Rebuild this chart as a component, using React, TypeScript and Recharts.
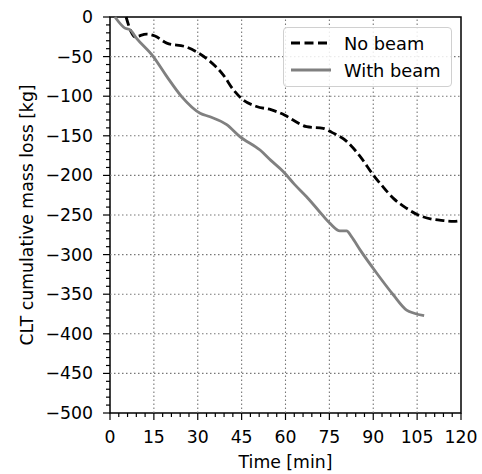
import React from "react";
import {
  LineChart,
  Line,
  XAxis,
  YAxis,
  ReferenceLine,
  ReferenceArea,
  Legend,
} from "recharts";

// time [min] / cumulative mass loss [kg]
const noBeamTime = [5.5, 7.4, 8.5, 12.5, 15.4, 19.4, 26.2, 29.6, 34.2, 38.7, 42.2, 45, 50.1, 55, 59.8, 63, 67.2, 72.9, 76, 80.9, 85.5, 90, 93, 96.9, 101.4, 104.8, 110.5, 114, 117.4, 119];
const noBeamLoss = [0, -20, -25, -21.5, -24, -33, -38, -44, -56, -73, -92, -103, -113, -117, -124, -131, -138.5, -140.5, -146, -157, -176, -199.5, -213, -229, -241.5, -249, -255.5, -257, -258, -257.5];

const withBeamTime = [1.7, 5.1, 6.8, 9.1, 14.8, 19.4, 24.5, 30.8, 34.2, 39.9, 44.4, 51.3, 55, 59.2, 63, 67.2, 71, 75.2, 78.6, 80.9, 82.5, 85.5, 91.2, 96.9, 101.4, 104, 107.4];
const withBeamLoss = [0, -14, -16, -27, -50, -75, -100.5, -121.5, -126, -136, -151, -168, -181, -195, -211, -227, -243, -260.5, -270, -270, -277, -294, -323.5, -351, -370, -374, -377];

const xMajor = [0, 15, 30, 45, 60, 75, 90, 105, 120];
const yMajor = [0, -50, -100, -150, -200, -250, -300, -350, -400, -450, -500];
const xTicks = Array.from({ length: 41 }, (_, i) => i * 3);
const yTicks = Array.from({ length: 51 }, (_, i) => -i * 10);

const noBeam = noBeamTime.map((t, i) => ({ t, v: noBeamLoss[i] }));
const withBeam = withBeamTime.map((t, i) => ({ t, v: withBeamLoss[i] }));

const FONT = "'DejaVu Sans', sans-serif";
const FS = 17.3;
const fmt = (v: number) => String(v).replace("-", "\u2212");

function XTick({ x, y, payload }: any) {
  const major = payload.value % 15 === 0;
  return (
    <g>
      <line x1={x} x2={x} y1={y} y2={y + (major ? 7 : 4)} stroke="#000" strokeWidth={1.2} />
      {major && (
        <text x={x} y={y + 30} textAnchor="middle" fontSize={FS} fontFamily={FONT} fill="#000">
          {fmt(payload.value)}
        </text>
      )}
    </g>
  );
}

function YTick({ x, y, payload }: any) {
  const major = payload.value % 50 === 0;
  return (
    <g>
      <line x1={x} x2={x - (major ? 7 : 4)} y1={y} y2={y} stroke="#000" strokeWidth={1.2} />
      {major && (
        <text x={x - 17} y={y + 6} textAnchor="end" fontSize={FS} fontFamily={FONT} fill="#000">
          {fmt(payload.value)}
        </text>
      )}
    </g>
  );
}

function LegendBox({ payload }: any) {
  return (
    <div
      style={{
        width: 169,
        height: 60,
        boxSizing: "border-box",
        border: "1px solid #d0d0d0",
        borderRadius: 4,
        background: "rgba(255,255,255,0.85)",
        fontFamily: FONT,
        fontSize: 17.8,
        position: "relative",
      }}
    >
      {(payload || []).map((e: any, i: number) => (
        <div key={e.value} style={{ position: "absolute", left: 0, top: 2 + i * 27, height: 26, display: "flex", alignItems: "center" }}>
          <svg width={53} height={10} style={{ marginLeft: 7 }}>
            <line
              x1={0}
              x2={40}
              y1={5}
              y2={5}
              stroke={e.color}
              strokeWidth={2.8}
              strokeDasharray={e.value === "No beam" ? "9 4.5" : undefined}
            />
          </svg>
          <span style={{ color: "#000" }}>{e.value}</span>
        </div>
      ))}
    </div>
  );
}

export default function App() {
  return (
    <div style={{ position: "absolute", left: 0, top: 0, background: "#fff" }}>
      <LineChart width={482} height={474} margin={{ top: 17, right: 21, left: 0, bottom: 0 }}>
        <XAxis
          dataKey="t"
          type="number"
          domain={[0, 120]}
          ticks={xTicks}
          interval={0}
          allowDuplicatedCategory={false}
          axisLine={false}
          tickLine={false}
          tickSize={0}
          tickMargin={0}
          height={61}
          tick={<XTick />}
          label={{
            content: ({ viewBox }: any) => (
              <text x={viewBox.x + viewBox.width / 2} y={468} textAnchor="middle" fontSize={FS} fontFamily={FONT}>
                Time [min]
              </text>
            ),
          }}
        />
        <YAxis
          type="number"
          domain={[-500, 0]}
          ticks={yTicks}
          interval={0}
          axisLine={false}
          tickLine={false}
          tickSize={0}
          tickMargin={0}
          width={110}
          tick={<YTick />}
          label={{
            content: ({ viewBox }: any) => {
              const cy = viewBox.y + viewBox.height / 2;
              return (
                <text x={33} y={cy} textAnchor="middle" fontSize={FS} fontFamily={FONT} transform={`rotate(-90, 33, ${cy})`}>
                  CLT cumulative mass loss [kg]
                </text>
              );
            },
          }}
        />
        {xMajor.slice(1, -1).map((v) => (
          <ReferenceLine key={"x" + v} x={v} stroke="#777" strokeWidth={1.1} strokeDasharray="1.5 2.5" />
        ))}
        {yMajor.slice(1, -1).map((v) => (
          <ReferenceLine key={"y" + v} y={v} stroke="#777" strokeWidth={1.1} strokeDasharray="1.5 2.5" />
        ))}
        <Line
          data={noBeam}
          dataKey="v"
          name="No beam"
          type="monotone"
          stroke="#000"
          strokeWidth={2.8}
          strokeDasharray="9 4"
          dot={false}
          isAnimationActive={false}
        />
        <Line
          data={withBeam}
          dataKey="v"
          name="With beam"
          type="monotone"
          stroke="#808080"
          strokeWidth={2.8}
          dot={false}
          isAnimationActive={false}
        />
        <ReferenceArea x1={0} x2={120} y1={-500} y2={0} fill="none" stroke="#000" strokeWidth={1.5} />
        <Legend
          layout="vertical"
          align="center"
          verticalAlign="middle"
          content={<LegendBox />}
          wrapperStyle={{ position: "absolute", left: 283, top: 27, width: 169, height: 60 }}
        />
      </LineChart>
    </div>
  );
}
